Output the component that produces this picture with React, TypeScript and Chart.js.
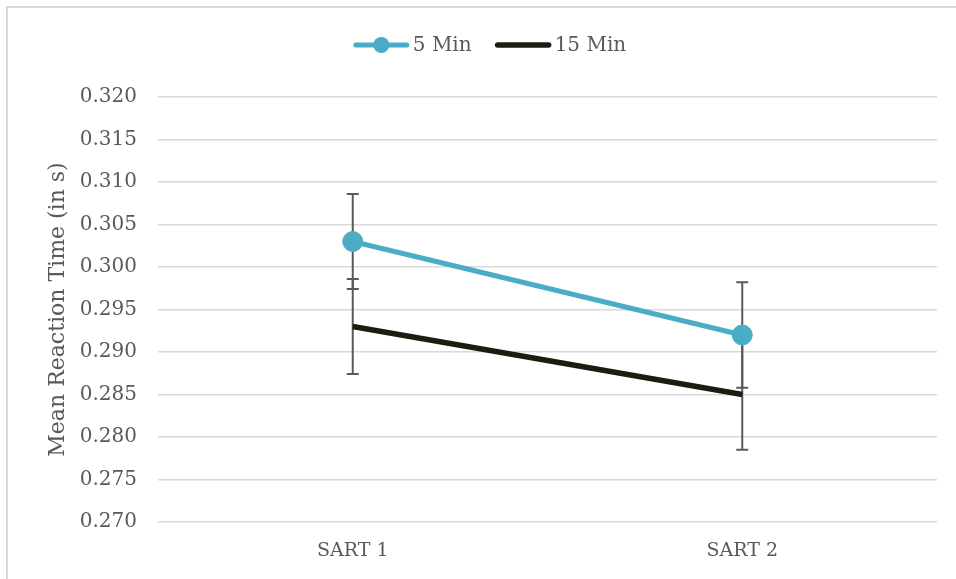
import React, { useEffect, useRef } from "react";
import { Chart, registerables } from "chart.js";

Chart.register(...registerables);

// Session labels along the x axis
const categories = ["SART 1", "SART 2"];

// Mean reaction time (s) per condition
const seriesNames = ["5 Min", "15 Min"];
const fiveMin = [0.303, 0.292];
const fifteenMin = [0.293, 0.285];

// Symmetric error bar half-lengths (s)
const fiveMinErr = [0.0056, 0.0062];
const fifteenMinErr = [0.0056, 0.0065];

// Value axis
const yMin = 0.27;
const yMax = 0.32;
const yStep = 0.005;
const yTitle = "Mean Reaction Time (in s)";

const TEAL = "#4BACC6";
const DARK = "#1E1B10";
const TEXT = "#595959";
const GRID = "#d9d9d9";
const FONT = "'DejaVu Serif', serif";

const errors = [fiveMinErr, fifteenMinErr];

// Vertical error bars with caps, painted beneath the lines and markers
const errorBarPlugin = {
  id: "errorBars",
  beforeDatasetsDraw(chart: any) {
    const ctx = chart.ctx;
    const y = chart.scales.y;
    chart.data.datasets.forEach((ds: any, i: number) => {
      const meta = chart.getDatasetMeta(i);
      meta.data.forEach((pt: any, j: number) => {
        const v = ds.data[j] as number;
        const e = errors[i][j];
        const top = y.getPixelForValue(v + e);
        const bot = y.getPixelForValue(v - e);
        const cap = 6;
        ctx.save();
        ctx.strokeStyle = TEXT;
        ctx.lineWidth = 2;
        ctx.beginPath();
        ctx.moveTo(pt.x, top);
        ctx.lineTo(pt.x, bot);
        ctx.moveTo(pt.x - cap, top);
        ctx.lineTo(pt.x + cap, top);
        ctx.moveTo(pt.x - cap, bot);
        ctx.lineTo(pt.x + cap, bot);
        ctx.stroke();
        ctx.restore();
      });
    });
  },
};

// Legend with a line sample (plus marker where the series has one)
const lineLegendPlugin = {
  id: "lineLegend",
  afterDraw(chart: any) {
    const ctx = chart.ctx;
    const sample = 55;
    const gapText = 4;
    const gapItem = 24;
    const cy = 45;
    ctx.save();
    ctx.font = `20px ${FONT}`;
    const items = chart.data.datasets.map((ds: any) => ({
      ds,
      w: ctx.measureText(ds.label).width,
    }));
    const total =
      items.reduce((s: number, it: any) => s + sample + gapText + it.w, 0) +
      gapItem * (items.length - 1);
    let x = 490 - total / 2;
    items.forEach((it: any) => {
      const ds = it.ds;
      ctx.strokeStyle = ds.borderColor;
      ctx.lineWidth = ds.borderWidth;
      ctx.lineCap = "round";
      ctx.beginPath();
      ctx.moveTo(x + 2, cy);
      ctx.lineTo(x + sample - 2, cy);
      ctx.stroke();
      if (ds.pointRadius > 0) {
        ctx.fillStyle = ds.pointBackgroundColor;
        ctx.beginPath();
        ctx.arc(x + sample / 2, cy, 8, 0, Math.PI * 2);
        ctx.fill();
      }
      ctx.fillStyle = TEXT;
      ctx.textBaseline = "middle";
      ctx.textAlign = "left";
      ctx.fillText(ds.label, x + sample + gapText, cy + 1);
      x += sample + gapText + it.w + gapItem;
    });
    ctx.restore();
  },
};

export default function App() {
  const canvasRef = useRef<HTMLCanvasElement | null>(null);

  useEffect(() => {
    if (!canvasRef.current) return;
    const chart = new Chart(canvasRef.current, {
      type: "line",
      data: {
        labels: categories,
        datasets: [
          {
            label: seriesNames[0],
            data: fiveMin,
            borderColor: TEAL,
            backgroundColor: TEAL,
            borderWidth: 5,
            pointRadius: 10,
            pointHoverRadius: 10,
            pointBackgroundColor: TEAL,
            pointBorderColor: TEAL,
            pointBorderWidth: 1,
            tension: 0,
          },
          {
            label: seriesNames[1],
            data: fifteenMin,
            borderColor: DARK,
            backgroundColor: DARK,
            borderWidth: 5.5,
            pointRadius: 0,
            pointHoverRadius: 0,
            pointBackgroundColor: DARK,
            tension: 0,
          },
        ],
      },
      options: {
        responsive: false,
        animation: false,
        layout: { padding: { top: 97, left: 0, right: 19, bottom: 0 } },
        plugins: {
          legend: { display: false },
          tooltip: { enabled: false },
        },
        scales: {
          x: {
            type: "category",
            offset: true,
            grid: { display: false, drawTicks: false },
            border: { display: false },
            ticks: {
              color: TEXT,
              font: { family: FONT, size: 19 },
              padding: 18,
            },
            afterFit(scale: any) {
              scale.height = 57;
            },
          },
          y: {
            min: yMin,
            max: yMax,
            grid: { color: GRID, lineWidth: 1.5, drawTicks: false },
            border: { display: false },
            ticks: {
              stepSize: yStep,
              color: TEXT,
              font: { family: FONT, size: 20 },
              padding: 21,
              callback: (v: any) => Number(v).toFixed(3),
            },
            title: {
              display: true,
              text: yTitle,
              color: TEXT,
              font: { family: FONT, size: 22 },
              padding: { top: 45, bottom: 0 },
            },
            afterFit(scale: any) {
              scale.width = 158;
            },
          },
        },
      },
      plugins: [errorBarPlugin, lineLegendPlugin],
    } as any);
    return () => chart.destroy();
  }, []);

  return (
    <div
      style={{
        position: "fixed",
        left: 0,
        top: 0,
        width: 956,
        height: 579,
        overflow: "hidden",
        background: "#ffffff",
      }}
    >
      <div
        style={{
          position: "absolute",
          left: 6,
          top: 6,
          width: 1100,
          height: 800,
          border: `2px solid ${GRID}`,
          boxSizing: "border-box",
        }}
      />
      <canvas
        ref={canvasRef}
        width={956}
        height={579}
        style={{ position: "absolute", left: 0, top: 0, width: 956, height: 579 }}
      />
    </div>
  );
}
